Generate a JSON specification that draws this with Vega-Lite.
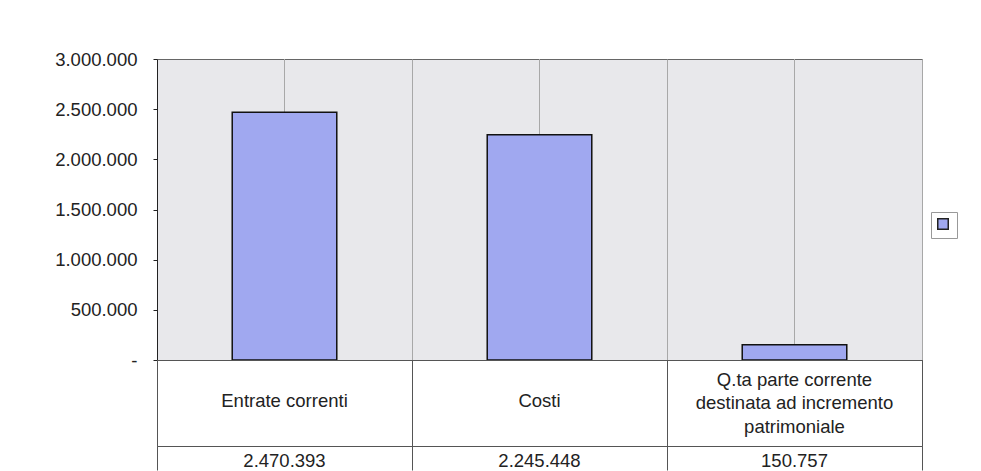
{
  "$schema": "https://vega.github.io/schema/vega-lite/v6.json",
  "padding": {"left": 54, "top": 49, "right": 0, "bottom": 0},
  "background": "white",
  "bounds": "flush",
  "spacing": 0,
  "config": {
    "font": "Liberation Sans",
    "locale": {"number": {"decimal": ",", "thousands": ".", "grouping": [3], "currency": ["", " €"]}},
    "view": {"stroke": null}
  },
  "datasets": {
    "d": [
      {"voce": "Entrate correnti", "label": "Entrate correnti", "importo": 2470393, "serie": ""},
      {"voce": "Costi", "label": "Costi", "importo": 2245448, "serie": ""},
      {"voce": "Q.ta parte corrente destinata ad incremento patrimoniale", "label": "Q.ta parte corrente\ndestinata ad incremento\npatrimoniale", "importo": 150757, "serie": ""}
    ]
  },
  "data": {"name": "d"},
  "vconcat": [
    {
      "width": 765,
      "height": 301,
      "view": {"fill": "#e8e8eb", "stroke": "#666"},
      "encoding": {
        "x": {
          "field": "voce", "type": "nominal", "sort": null,
          "scale": {"paddingInner": 0, "paddingOuter": 0},
          "axis": {"title": null, "labels": false, "ticks": false, "grid": true, "tickBand": "extent", "gridColor": "#a8a8a8", "domainColor": "#222"}
        }
      },
      "layer": [
        {"mark": {"type": "rule", "color": "#a8a8a8", "strokeWidth": 1}, "encoding": {"x": {"field": "voce", "type": "nominal", "sort": null, "bandPosition": 0.5}}},
        {
          "mark": {"type": "bar", "stroke": "#111", "strokeWidth": 1.5, "width": {"band": 0.41}},
          "encoding": {
            "y": {
              "field": "importo", "type": "quantitative",
              "scale": {"domain": [0, 3000000], "nice": false},
              "axis": {
                "title": null, "grid": false,
                "values": [0, 500000, 1000000, 1500000, 2000000, 2500000, 3000000],
                "labelExpr": "datum.value == 0 ? '-' : replace(format(datum.value, ','), regexp(',', 'g'), '.')",
                "tickSize": 4, "labelPadding": 16, "labelFontSize": 18.5, "labelColor": "#222",
                "domainColor": "#222", "tickColor": "#222"
              }
            },
            "color": {
              "field": "serie", "type": "nominal",
              "scale": {"range": ["#a0a8f0"]},
              "legend": {
                "title": null, "orient": "none", "legendX": 774, "legendY": 153,
                "symbolType": "square", "symbolSize": 110, "symbolStrokeColor": "#222", "symbolStrokeWidth": 1.5,
                "labelFontSize": 14, "labelOffset": 0,
                "strokeColor": "#999", "fillColor": "white", "padding": 5
              }
            }
          }
        }
      ]
    },
    {
      "width": 765,
      "height": 86,
      "view": {"fill": "white", "stroke": "#555"},
      "encoding": {
        "x": {
          "field": "voce", "type": "nominal", "sort": null,
          "scale": {"paddingInner": 0, "paddingOuter": 0},
          "axis": {"title": null, "labels": false, "ticks": false, "domain": false, "grid": true, "tickBand": "extent", "gridColor": "#555"}
        },
        "text": {"field": "label"}
      },
      "layer": [
        {
          "transform": [{"filter": "indexof(datum.label, '\\n') < 0"}],
          "mark": {"type": "text", "fontSize": 18.5, "color": "#222", "dy": -2}
        },
        {
          "transform": [{"filter": "indexof(datum.label, '\\n') >= 0"}],
          "mark": {"type": "text", "fontSize": 18.5, "lineBreak": "\n", "lineHeight": 23.5, "color": "#222", "dy": -23.5}
        }
      ]
    },
    {
      "width": 765,
      "height": 24,
      "view": {"fill": null, "stroke": null},
      "mark": {"type": "text", "fontSize": 18.5, "dy": 3, "color": "#222"},
      "encoding": {
        "x": {
          "field": "voce", "type": "nominal", "sort": null,
          "scale": {"paddingInner": 0, "paddingOuter": 0},
          "axis": {"title": null, "labels": false, "ticks": false, "domain": false, "grid": true, "tickBand": "extent", "gridColor": "#555"}
        },
        "text": {"field": "importo", "type": "quantitative", "format": ","}
      }
    }
  ]
}
